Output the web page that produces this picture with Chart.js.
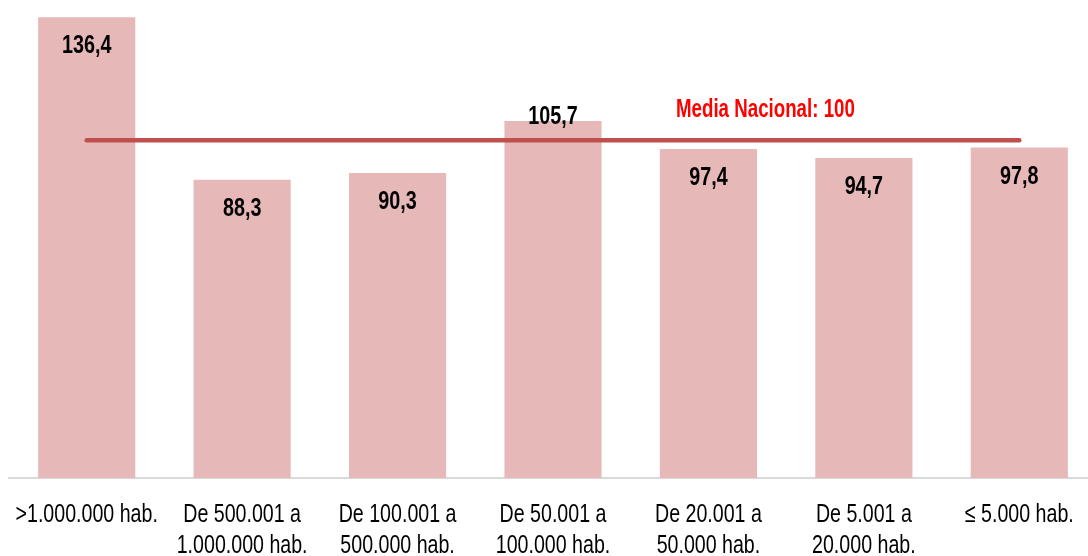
<!DOCTYPE html>
<html>
<head>
<meta charset="utf-8">
<script src="https://cdn.jsdelivr.net/npm/chart.js@4.4.1/dist/chart.umd.min.js"></script>
<style>
  html, body { margin: 0; padding: 0; background: #fff; overflow: hidden; }
  #wrap { position: relative; width: 1100px; height: 556px; }
</style>
</head>
<body>
<div id="wrap"><canvas id="chart"></canvas></div>
<script>
// datos
const categorias = [
  [">1.000.000 hab."],
  ["De 500.001 a", "1.000.000 hab."],
  ["De 100.001 a", "500.000 hab."],
  ["De 50.001 a", "100.000 hab."],
  ["De 20.001 a", "50.000 hab."],
  ["De 5.001 a", "20.000 hab."],
  ["\u2264 5.000 hab."]
];
const valores = [136.4, 88.3, 90.3, 105.7, 97.4, 94.7, 97.8];
const mediaNacional = 100;
const mediaSerie = categorias.map(() => mediaNacional);
const etiquetaMedia = "Media Nacional: 100";

const FONT = "'Liberation Sans', Arial, sans-serif";

// texto estrecho (tipo Arial Narrow) escalando en horizontal
function textoEstrecho(ctx, txt, x, y, escala) {
  ctx.save();
  ctx.translate(x, y);
  ctx.scale(escala, 1);
  ctx.fillText(txt, 0, 0);
  ctx.restore();
}

const etiquetas = {
  id: "etiquetas",
  afterDatasetsDraw(chart) {
    const ctx = chart.ctx;
    const x = chart.scales.x, y = chart.scales.y;
    const meta = chart.getDatasetMeta(1);
    ctx.save();
    ctx.textAlign = "center";
    ctx.textBaseline = "alphabetic";

    // valores
    ctx.fillStyle = "#000";
    ctx.font = "bold 26px " + FONT;
    meta.data.forEach((bar, i) => {
      const v = valores[i];
      const dy = (v > mediaNacional && v < mediaNacional + 10) ? 3 : 36;
      textoEstrecho(ctx, v.toFixed(1).replace(".", ","), bar.x, bar.y + dy, 0.76);
    });

    // categorías
    ctx.font = "26.5px " + FONT;
    categorias.forEach((lineas, i) => {
      const cx = x.getPixelForTick(i);
      lineas.forEach((l, j) => {
        textoEstrecho(ctx, l, cx, chart.chartArea.bottom + 44 + j * 31, 0.74);
      });
    });

    // media nacional
    ctx.fillStyle = "#ff0000";
    ctx.font = "bold 26px " + FONT;
    textoEstrecho(ctx, etiquetaMedia, x.getPixelForValue(4) + 57, y.getPixelForValue(mediaNacional) - 23, 0.72);
    ctx.restore();
  }
};

new Chart(document.getElementById("chart"), {
  data: {
    labels: categorias,
    datasets: [
      {
        type: "line",
        label: "Media Nacional",
        data: mediaSerie,
        borderColor: "#c0504d",
        borderWidth: 4.5,
        borderCapStyle: "round",
        pointRadius: 0,
        order: 0
      },
      {
        type: "bar",
        label: "Índice",
        data: valores,
        backgroundColor: "#e6b8b7",
        categoryPercentage: 1,
        barPercentage: 0.625,
        order: 1
      }
    ]
  },
  options: {
    responsive: true,
    maintainAspectRatio: false,
    animation: false,
    layout: { padding: { left: 9, right: 3, top: 5, bottom: 0 } },
    plugins: {
      legend: { display: false },
      tooltip: { enabled: false }
    },
    scales: {
      x: {
        grid: { display: false, drawTicks: false },
        border: { display: true, color: "#d9d9d9", width: 2 },
        ticks: { display: false },
        afterFit(scale) {
          scale.height = 78;
          scale.paddingLeft = 0;
          scale.paddingRight = 0;
        }
      },
      y: {
        display: false,
        min: 0,
        max: 140
      }
    }
  },
  plugins: [etiquetas]
});
</script>
</body>
</html>
